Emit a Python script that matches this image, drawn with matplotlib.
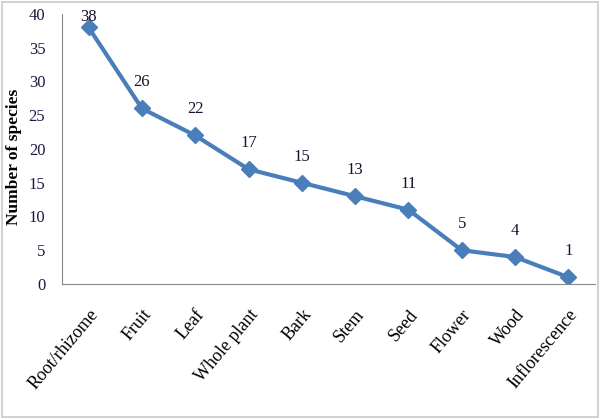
import matplotlib.pyplot as plt
from matplotlib.patches import Rectangle

parts = ["Root/rhizome", "Fruit", "Leaf", "Whole plant", "Bark", "Stem",
         "Seed", "Flower", "Wood", "Inflorescence"]
species = [38, 26, 22, 17, 15, 13, 11, 5, 4, 1]
yticks = [0, 5, 10, 15, 20, 25, 30, 35, 40]

plt.rcParams['font.family'] = ['Liberation Serif', 'DejaVu Serif']

fig = plt.figure(figsize=(6, 4.19), dpi=100)
ax = fig.add_axes([0.1033, 0.3222, 0.8884, 0.6444])

x = list(range(len(parts)))
ax.plot(x, species, color='#4a7ebb', lw=3, marker='D', ms=8,
        markeredgecolor='#4a7ebb')

for xi, v in zip(x, species):
    # excel squeezes the top label down so it stays inside the plot area
    off = 2 if v > 35 else 13
    ax.annotate(str(v), (xi, v), xytext=(0, off), textcoords='offset points',
                ha='center', va='bottom', fontsize=12, color='#1a1030')

ax.set_xlim(-0.5, len(parts) - 0.5)
ax.set_ylim(0, 40)
ax.set_yticks(yticks)
ax.set_xticks(x)
ax.set_xticklabels(parts, rotation=50, ha='right', rotation_mode='anchor',
                   fontsize=13)
ax.tick_params(axis='y', length=0, pad=12, labelsize=12, labelcolor='#1a1a40')
ax.tick_params(axis='x', length=0, pad=16)

for side in ['top', 'right']:
    ax.spines[side].set_visible(False)
ax.spines['left'].set_color('#888888')
ax.spines['bottom'].set_color('#888888')

fig.text(0.024, 0.625, 'Number of species', rotation=90, fontsize=12.5,
         fontweight='bold', ha='center', va='center')

fig.patches.append(Rectangle((0.003, 0.004), 0.994, 0.992, transform=fig.transFigure,
                             fill=False, edgecolor='#c8c8c8', lw=1.2))

fig.savefig('out.png', dpi=100)
